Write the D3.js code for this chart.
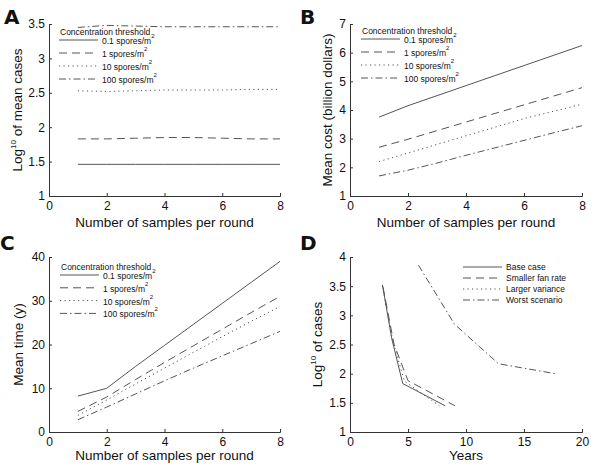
<!DOCTYPE html>
<html><head><meta charset="utf-8">
<script src="https://cdn.jsdelivr.net/npm/d3@7"></script>
<style>body{margin:0;background:#fff}svg{display:block}text{font-family:"Liberation Sans",Arial,sans-serif;fill:#111}</style>
</head><body><svg id="c" width="600" height="467"></svg>
<script>
const samples = [1,2,3,4,5,6,7,8];
const thresholds = ["0.1 spores/m","1 spores/m","10 spores/m","100 spores/m"];
// Panel A: log10 of mean cases
const casesA = [
  [1.46,1.46,1.46,1.46,1.46,1.46,1.46,1.46],
  [1.83,1.83,1.84,1.85,1.85,1.84,1.83,1.83],
  [2.53,2.52,2.53,2.54,2.54,2.54,2.55,2.55],
  [3.45,3.48,3.47,3.46,3.46,3.46,3.46,3.46]
];
// Panel B: mean cost (billion dollars)
const costB = [
  [3.75,4.15,4.5,4.85,5.2,5.55,5.9,6.25],
  [2.7,2.98,3.28,3.58,3.88,4.18,4.48,4.78],
  [2.2,2.5,2.8,3.1,3.4,3.7,3.95,4.2],
  [1.7,1.9,2.15,2.42,2.68,2.94,3.2,3.45]
];
// Panel C: mean time (y)
const timeC = [
  [8.2,10,15,19.8,24.6,29.4,34.2,39],
  [4.7,8,12,15.9,19.7,23.5,27.3,31],
  [3.8,7.3,11,14.6,18.2,21.8,25.3,28.7],
  [2.8,5.7,8.7,11.7,14.6,17.4,20.2,23]
];
// Panel D: log10 of cases vs years
const scenarios = ["Base case","Smaller fan rate","Larger variance","Worst scenario"];
const yearsD = [
  [2.8,3.6,4.55,8.2],
  [2.85,3.8,5.0,9.05],
  [2.8,3.7,4.7,7.7],
  [5.9,9.0,12.8,17.7]
];
const casesD = [
  [3.52,2.6,1.83,1.45],
  [3.48,2.5,1.88,1.45],
  [3.5,2.55,1.87,1.45],
  [3.86,2.85,2.17,2.0]
];
const dashes = [null,"8,5","1.2,3.3","7,3,1.5,3"];

const svg = d3.select("#c");
const lineColor = "#555";

function panel(o){
  const g = svg.append("g");
  const x = d3.scaleLinear().domain(o.xd).range([o.l,o.r]);
  const y = d3.scaleLinear().domain(o.yd).range([o.b,o.t]);
  const ax = d3.axisBottom(x).tickValues(o.xt).tickSize(-3).tickPadding(5).tickFormat(d3.format("d"));
  const ay = d3.axisLeft(y).tickValues(o.yt).tickSize(-3).tickPadding(4).tickFormat(o.yf||d3.format("d"));
  const gx = g.append("g").attr("transform",`translate(0,${o.b})`).call(ax);
  const gy = g.append("g").attr("transform",`translate(${o.l},0)`).call(ay);
  [gx,gy].forEach(a=>{
    a.select(".domain").attr("stroke","#333").attr("stroke-width",1);
    a.selectAll(".tick line").attr("stroke","#333");
    a.selectAll(".tick text").style("font-size","12px").attr("fill","#111");
  });
  const line = d3.line().x(d=>x(d[0])).y(d=>y(d[1]));
  o.series.forEach((s,i)=>{
    g.append("path").datum(s).attr("d",line).attr("fill","none")
     .attr("stroke",lineColor).attr("stroke-width",1)
     .attr("stroke-dasharray",dashes[i]);
  });
  const xl = g.append("text").attr("x",(o.l+o.r)/2).attr("y",o.xly).attr("text-anchor","middle").style("font-size","13.5px");
  xl.text(o.xlabel);
  const yl = g.append("text").attr("transform",`translate(${o.ylx},${(o.t+o.b)/2}) rotate(-90)`).attr("text-anchor","middle").style("font-size","13.5px");
  if(o.ysup){
    yl.append("tspan").text(o.ylabel[0]);
    yl.append("tspan").text(o.ysup).attr("dy",-6).style("font-size","8px");
    yl.append("tspan").text(o.ylabel[1]).attr("dy",6);
  } else yl.text(o.ylabel);
  svg.append("text").attr("x",o.lx).attr("y",o.ly).text(o.letter)
    .style("font-size","20px").style("font-weight","900").style("font-family","'DejaVu Sans',Arial,sans-serif");
  const L = o.legend;
  if(L.title) g.append("text").attr("x",L.x+1).attr("y",L.y0-5).text(L.title).style("font-size","8.5px");
  L.names.forEach((n,i)=>{
    const yy = L.y0 + i*L.dy;
    g.append("line").attr("x1",L.x).attr("x2",L.x+L.w).attr("y1",yy).attr("y2",yy)
      .attr("stroke",lineColor).attr("stroke-width",1).attr("stroke-dasharray",dashes[i]);
    const t = g.append("text").attr("x",L.x+L.w+4).attr("y",yy+L.toff).style("font-size","8.5px");
    t.append("tspan").text(n);
    if(L.sup){ t.append("tspan").text("2").attr("dy",-6).style("font-size","6px"); }
  });
}

const zip = (xs,ys)=>xs.map((v,i)=>[v,ys[i]]);
const fmt1 = d=> d===Math.round(d)? String(d) : d.toFixed(1);

panel({l:49,r:280,t:24,b:196,xd:[0,8],yd:[1,3.5],xt:[0,2,4,6,8],yt:[1,1.5,2,2.5,3,3.5],yf:fmt1,
  series:casesA.map(s=>zip(samples,s)),xlabel:"Number of samples per round",xly:227,
  ylabel:["Log"," of mean cases"],ysup:"10",ylx:22,letter:"A",lx:4,ly:24,
  legend:{x:59,y0:40,dy:13,w:39,toff:4,title:"Concentration threshold",names:thresholds,sup:true}});
panel({l:350,r:582,t:24,b:196,xd:[0,8],yd:[1,7],xt:[0,2,4,6,8],yt:[1,2,3,4,5,6,7],
  series:costB.map(s=>zip(samples,s)),xlabel:"Number of samples per round",xly:227,
  ylabel:"Mean cost (billion dollars)",ylx:332,letter:"B",lx:300,ly:24,
  legend:{x:361,y0:39,dy:13,w:39,toff:4,title:"Concentration threshold",names:thresholds,sup:true}});
panel({l:49,r:280,t:257,b:432,xd:[0,8],yd:[0,40],xt:[0,2,4,6,8],yt:[0,10,20,30,40],
  series:timeC.map(s=>zip(samples,s)),xlabel:"Number of samples per round",xly:460,
  ylabel:"Mean time (y)",ylx:23,letter:"C",lx:0,ly:250,
  legend:{x:60,y0:275,dy:12.8,w:39,toff:4,title:"Concentration threshold",names:thresholds,sup:true}});
panel({l:350,r:582,t:257,b:432,xd:[0,20],yd:[1,4],xt:[0,5,10,15,20],yt:[1,1.5,2,2.5,3,3.5,4],yf:fmt1,
  series:yearsD.map((s,i)=>zip(s,casesD[i])),xlabel:"Years",xly:460,
  ylabel:["Log"," of cases"],ysup:"10",ylx:322,letter:"D",lx:300,ly:250,
  legend:{x:463,y0:267,dy:11,w:39,toff:3,title:null,names:scenarios,sup:false}});
</script></body></html>
